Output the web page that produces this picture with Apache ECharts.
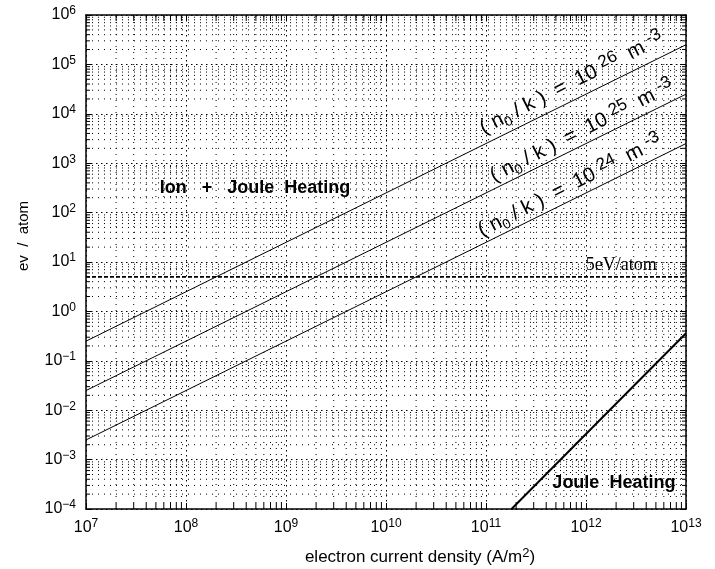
<!DOCTYPE html>
<html>
<head>
<meta charset="utf-8">
<script src="https://cdn.jsdelivr.net/npm/echarts@6/dist/echarts.min.js"></script>
<style>html,body{margin:0;padding:0;background:#fff}#c{width:715px;height:569px}</style>
</head>
<body>
<div id="c"></div>
<script>
// ---- data ----
const xRange = [1e7, 1e13];
const yRange = [1e-4, 1e6];
const lineX = [1e7, 1e13];
const n26 = [0.25, 2.5e5];
const n25 = [0.025, 2.5e4];
const n24 = [0.0025, 2500];
const jouleX = [1.8e11, 1e13];
const jouleY = [1e-4, 0.36];
const threshold = 5;
const curveExps = ['26', '25', '24'];
// label anchors in data space
const curveLabelAt = [[7.2e11, 4.2e4], [9.1e11, 4.5e3], [6.9e11, 3.5e2]];
const ionLabelAt = [4.9e8, 316];
const eVLabelAt = [2.25e12, 8.5];
const jouleLabelAt = [1.9e12, 3.4e-4];

function minorValues(lo, hi) {
  const out = [];
  for (let k = lo; k < hi; k++) for (let m = 2; m <= 9; m++) out.push(m * Math.pow(10, k));
  return out;
}
const xMinor = minorValues(7, 13);
const yMinor = minorValues(-4, 6);

const chart = echarts.init(document.getElementById('c'));
const FONT = '"Liberation Sans", Arial, sans-serif';

function pow10Label(v) {
  const e = Math.round(Math.log10(v));
  return '{b|10}{s|' + String(e).replace('-', '\u2212') + '}';
}
const labelRich = {
  b: { fontSize: 16, fontFamily: FONT, color: '#000', lineHeight: 20 },
  s: { fontSize: 12, fontFamily: FONT, color: '#000', verticalAlign: 'top', lineHeight: 12 }
};

const majorDotted = { color: '#000', width: 1, type: [1.5, 3.5] };

function axisCommon(extra) {
  return Object.assign({
    type: 'log', logBase: 10,
    axisLine: { show: true, lineStyle: { color: '#000', width: 1.5 } },
    axisTick: { show: true, inside: true, length: 6, lineStyle: { color: '#000', width: 1 } },
    splitLine: { show: true, lineStyle: majorDotted },
    minorTick: { show: false }, minorSplitLine: { show: false }
  }, extra);
}

function curveLabel(exp) {
  return '{t|( n}{sub|0}{t| / k )  =  10 }{sup|' + exp + '}{t|  m }{sup|-3}';
}
const curveRich = {
  t: { fontSize: 20.5, fontFamily: FONT, color: '#000', lineHeight: 26 },
  sub: { fontSize: 14, fontFamily: FONT, color: '#000', verticalAlign: 'bottom', lineHeight: 14 },
  sup: { fontSize: 17, fontFamily: FONT, color: '#000', verticalAlign: 'top', lineHeight: 14 }
};

function lineSeries(name, xs, ys, width) {
  return {
    name, type: 'line', xAxisIndex: 0, yAxisIndex: 0,
    data: xs.map((x, i) => [x, ys[i]]),
    symbol: 'none', lineStyle: { color: '#000', width: width }, silent: true, z: 5
  };
}

function textPoint(coord, text, rich, rotate) {
  return {
    coord, symbolSize: 0,
    label: { show: true, position: 'inside', formatter: text, rich, rotate: rotate || 0 }
  };
}

const option = {
  animation: false,
  backgroundColor: '#fff',
  grid: { left: 86, right: 29, top: 15, bottom: 60, show: false },
  xAxis: [
    axisCommon({
      position: 'bottom', min: xRange[0], max: xRange[1],
      axisLabel: { formatter: pow10Label, rich: labelRich, margin: 9 }
    }),
    axisCommon({
      position: 'top', min: xRange[0], max: xRange[1],
      axisLabel: { show: false }, splitLine: { show: false }
    })
  ],
  yAxis: [
    axisCommon({
      position: 'left', min: yRange[0], max: yRange[1],
      axisLabel: { formatter: pow10Label, rich: labelRich, margin: 10 }
    }),
    axisCommon({
      position: 'right', min: yRange[0], max: yRange[1],
      axisLabel: { show: false }, splitLine: { show: false }
    })
  ],
  series: [
    {
      type: 'custom', name: 'xMinor', xAxisIndex: 0, yAxisIndex: 0, silent: true, z: 1,
      data: xMinor.map(v => [v, yRange[0]]),
      renderItem: function (params, api) {
        const v = api.value(0);
        const p0 = api.coord([v, yRange[0]]);
        const p1 = api.coord([v, yRange[1]]);
        return {
          type: 'group', children: [
            { type: 'line', shape: { x1: p0[0], y1: p0[1], x2: p1[0], y2: p1[1] }, style: { stroke: '#000', lineWidth: 1, lineDash: [1, 5] } },
            { type: 'line', shape: { x1: p0[0], y1: p0[1], x2: p0[0], y2: p0[1] - 6 }, style: { stroke: '#000', lineWidth: 1 } },
            { type: 'line', shape: { x1: p1[0], y1: p1[1], x2: p1[0], y2: p1[1] + 6 }, style: { stroke: '#000', lineWidth: 1 } }
          ]
        };
      }
    },
    {
      type: 'custom', name: 'yMinor', xAxisIndex: 0, yAxisIndex: 0, silent: true, z: 1,
      data: yMinor.map(v => [xRange[0], v]),
      renderItem: function (params, api) {
        const v = api.value(1);
        const p0 = api.coord([xRange[0], v]);
        const p1 = api.coord([xRange[1], v]);
        return {
          type: 'group', children: [
            { type: 'line', shape: { x1: p0[0], y1: p0[1], x2: p1[0], y2: p1[1] }, style: { stroke: '#000', lineWidth: 1, lineDash: [1, 5] } },
            { type: 'line', shape: { x1: p0[0], y1: p0[1], x2: p0[0] + 4, y2: p0[1] }, style: { stroke: '#000', lineWidth: 1 } },
            { type: 'line', shape: { x1: p1[0], y1: p1[1], x2: p1[0] - 4, y2: p1[1] }, style: { stroke: '#000', lineWidth: 1 } }
          ]
        };
      }
    },
    Object.assign(lineSeries('n26', lineX, n26, 1), {
      markPoint: { silent: true, data: [textPoint(curveLabelAt[0], curveLabel(curveExps[0]), curveRich, 27)] }
    }),
    Object.assign(lineSeries('n25', lineX, n25, 1), {
      markPoint: { silent: true, data: [textPoint(curveLabelAt[1], curveLabel(curveExps[1]), curveRich, 27)] }
    }),
    Object.assign(lineSeries('n24', lineX, n24, 1), {
      markPoint: { silent: true, data: [textPoint(curveLabelAt[2], curveLabel(curveExps[2]), curveRich, 27)] }
    }),
    Object.assign(lineSeries('joule', jouleX, jouleY, 2), {
      markPoint: {
        silent: true,
        data: [
          textPoint(jouleLabelAt, 'Joule  Heating', null),
          textPoint(ionLabelAt, 'Ion   +   Joule  Heating', null)
        ],
        label: { fontSize: 18, fontWeight: 'bold', fontFamily: FONT, color: '#000' }
      }
    }),
    {
      name: 'threshold', type: 'line', data: lineX.map(x => [x, threshold]),
      symbol: 'none', lineStyle: { color: '#000', width: 1.8, type: [4, 2] }, silent: true, z: 5,
      markPoint: {
        silent: true,
        data: [textPoint(eVLabelAt, '5eV/atom', null)],
        label: { fontSize: 18, fontFamily: '"Liberation Serif", "Times New Roman", serif', color: '#000' }
      }
    }
  ],
  graphic: [
    {
      type: 'text', x: 24, y: 236, rotation: Math.PI / 2,
      style: { text: 'ev  /  atom', font: '15px ' + FONT, fill: '#000', align: 'center', verticalAlign: 'middle' }
    },
    {
      type: 'text', x: 420, y: 557,
      style: {
        text: '{t|electron current density (A/m}{s|2}{t|)}', align: 'center', verticalAlign: 'middle',
        rich: {
          t: { fontSize: 17, fontFamily: FONT, fill: '#000', lineHeight: 20 },
          s: { fontSize: 13, fontFamily: FONT, fill: '#000', verticalAlign: 'top', lineHeight: 12 }
        }
      }
    }
  ]
};
chart.setOption(option);
</script>
</body>
</html>
